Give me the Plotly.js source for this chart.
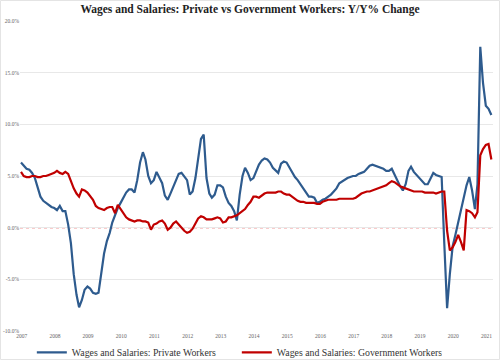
<!DOCTYPE html>
<html>
<head>
<meta charset="utf-8">
<script src="https://cdn.plot.ly/plotly-3.0.1.min.js"></script>
<style>
html,body{margin:0;padding:0;background:#fff;}
#chart{width:500px;height:360px;}
</style>
</head>
<body>
<div id="chart"></div>
<script>
// Monthly observations, first month = June 2007
const startYear = 2007, startMonth = 6;
const privateWorkers = [
 6.3,6.0,5.7,5.6,5.3,4.8,4.0,3.0,2.6,2.4,
 2.2,2.0,1.9,1.7,2.1,1.6,1.6,0.3,-1.5,-4.5,
 -6.5,-7.7,-7.0,-6.0,-5.7,-5.9,-6.3,-6.4,-6.3,-4.5,
 -2.5,-1.3,-0.5,0.5,1.3,1.9,2.4,2.9,3.4,3.7,
 3.7,3.4,4.6,6.3,7.3,6.6,5.0,4.3,4.6,5.4,
 4.9,4.3,3.1,2.7,3.3,4.0,4.6,5.2,5.3,5.0,
 4.6,3.2,3.5,4.8,6.8,8.6,9.0,4.8,3.3,2.9,
 3.2,4.1,4.1,3.9,3.0,2.4,2.1,1.6,0.7,3.2,
 5.0,5.8,5.3,4.6,4.8,5.5,6.1,6.5,6.7,6.6,
 6.3,5.8,5.5,5.3,6.2,6.4,6.3,5.8,5.4,4.9,
 4.6,4.2,3.9,3.4,3.0,3.0,2.9,2.4,2.5,2.7,
 2.8,3.0,3.2,3.5,3.8,4.3,4.5,4.6,4.8,4.9,
 5.0,5.0,5.2,5.3,5.4,5.7,6.0,6.1,6.0,5.9,
 5.8,5.7,5.5,5.5,5.7,5.1,4.5,4.0,3.6,4.2,
 5.5,5.9,5.4,5.1,4.8,4.4,4.2,4.2,4.8,5.3,
 5.1,5.0,4.9,-1.5,-7.8,-4.5,-1.8,-0.7,0.5,1.8,
 3.1,4.1,4.9,3.6,1.8,4.2,17.5,14.0,11.8,11.5,
 10.9
];
const governmentWorkers = [
 5.4,5.0,4.9,4.9,5.0,5.0,4.9,4.9,5.0,5.0,
 5.1,5.2,5.3,5.5,5.3,5.2,5.4,5.2,4.5,3.8,
 3.3,3.0,3.7,3.6,3.4,3.1,2.7,2.1,1.9,1.8,
 1.7,1.9,2.0,2.0,1.4,2.2,1.8,1.4,1.0,0.8,
 0.7,0.6,0.7,0.7,0.6,0.6,0.5,-0.2,0.3,0.4,
 0.6,0.7,0.4,-0.2,0.0,0.4,0.6,0.3,-0.1,-0.3,
 -0.5,-0.4,-0.1,0.4,0.9,1.1,1.0,0.8,0.8,0.8,
 0.9,1.0,0.9,0.5,0.6,1.0,1.0,1.1,1.2,1.4,
 1.6,1.8,2.2,2.5,3.0,3.0,2.9,3.1,3.3,3.4,
 3.4,3.4,3.4,3.5,3.5,3.3,3.2,3.2,3.0,2.8,
 2.6,2.5,2.5,2.4,2.4,2.4,2.4,2.3,2.3,2.5,
 2.6,2.7,2.7,2.7,2.7,2.8,2.8,2.8,2.8,2.8,
 2.8,2.9,3.1,3.3,3.4,3.5,3.5,3.6,3.7,3.8,
 3.9,4.0,4.1,4.3,4.5,4.4,4.2,4.0,3.9,3.8,
 3.7,3.6,3.5,3.5,3.5,3.5,3.4,3.4,3.4,3.4,
 3.3,3.4,3.5,3.5,-0.3,-2.2,-1.9,-1.4,-0.7,-1.4,
 -2.2,1.7,1.6,1.4,1.0,1.5,7.0,7.6,8.0,8.1,
 6.6
];
const yearLabels = ['2007','2008','2009','2010','2011','2012','2013','2014','2015','2016','2017','2018','2019','2020','2021'];
const yTicks = [-10,-5,0,5,10,15,20];
const yTickLabels = ['-10.0%','-5.0%','0.0%','5.0%','10.0%','15.0%','20.0%'];

// month dates for the observations
const dates = privateWorkers.map((_, k) => {
  const m = startMonth - 1 + k;
  const y = startYear + Math.floor(m / 12);
  const mm = (m % 12) + 1;
  return y + '-' + String(mm).padStart(2, '0') + '-01';
});
const tickVals = yearLabels.map(y => y + '-06-08');

const serif = 'Liberation Serif, Times New Roman, serif';

const traces = [
  {x: dates, y: privateWorkers, type: 'scatter', mode: 'lines',
   name: 'Wages and Salaries: Private Workers',
   line: {color: '#2e5b8e', width: 2.2}},
  {x: dates, y: governmentWorkers, type: 'scatter', mode: 'lines',
   name: 'Wages and Salaries: Government Workers',
   line: {color: '#c00000', width: 2.2}}
];

const W = 473, H = 310;
const layout = {
  width: 500, height: 360,
  margin: {l: 20, r: 7, t: 21, b: 29, autoexpand: false},
  paper_bgcolor: '#fff', plot_bgcolor: '#fff',
  title: {text: '<b>Wages and Salaries: Private vs Government Workers: Y/Y% Change</b>',
          font: {family: serif, size: 11.5, color: '#222'},
          x: 0.5, xanchor: 'center', y: 0.976, yanchor: 'middle'},
  xaxis: {type: 'date', range: ['2007-05-21', '2021-08-19'],
          tickmode: 'array', tickvals: tickVals, ticktext: yearLabels,
          showgrid: false, zeroline: false, showline: false, ticks: '',
          tickfont: {family: serif, size: 5.5, color: '#666'}},
  yaxis: {range: [-10, 20], tickmode: 'array', tickvals: yTicks, ticktext: yTickLabels,
          showgrid: true, gridcolor: '#e8e8e8', gridwidth: 1,
          zeroline: false, showline: false, ticks: '',
          tickfont: {family: serif, size: 5.5, color: '#666'}},
  shapes: [
    {type: 'line', xref: 'paper', yref: 'y', x0: 0, x1: 1, y0: 0, y1: 0,
     line: {color: '#e83232', width: 1.3, dash: 'dot'}, layer: 'below'},
    {type: 'rect', xref: 'paper', yref: 'paper',
     x0: -19.5 / W, x1: 1 + 6.5 / W, y0: -28.5 / H, y1: 1 + 20.5 / H,
     line: {color: '#e4e4e4', width: 1}, fillcolor: 'rgba(0,0,0,0)', layer: 'below'}
  ],
  showlegend: true,
  legend: {orientation: 'h', x: 0.025, xanchor: 'left', y: -0.022, yanchor: 'top',
           entrywidth: 160, entrywidthmode: 'pixels',
           font: {family: serif, size: 9.8, color: '#333'}, bgcolor: 'rgba(0,0,0,0)'}
};

Plotly.newPlot('chart', traces, layout, {displayModeBar: false, staticPlot: true});
</script>
</body>
</html>
